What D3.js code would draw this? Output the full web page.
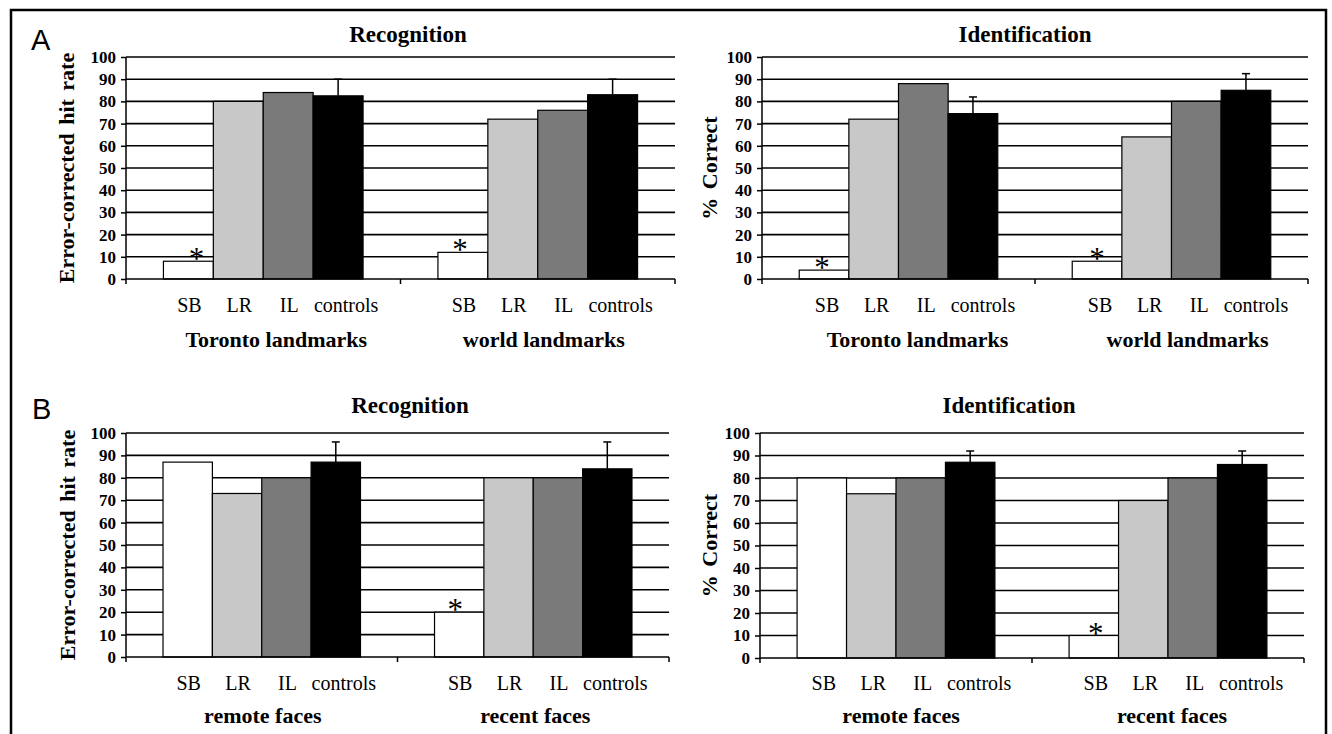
<!DOCTYPE html>
<html lang="en">
<head>
<meta charset="utf-8">
<title>Landmark and face recognition</title>
<script src="https://cdnjs.cloudflare.com/ajax/libs/d3/7.8.5/d3.min.js"></script>
<style>
  body { margin: 0; background: #fff; }
  text { font-family: "Liberation Serif", "Times New Roman", serif; fill: #000; }
</style>
</head>
<body>
<script>
// categories and groups
var categories = ["SB", "LR", "IL", "controls"];
var landmarkGroups = ["Toronto landmarks", "world landmarks"];
var faceGroups = ["remote faces", "recent faces"];
var yTicks = [0, 10, 20, 30, 40, 50, 60, 70, 80, 90, 100];

// values, one row per group, in category order
var recogLandmarks = [[8, 80, 84, 82.5], [12, 72, 76, 83]];
var identLandmarks = [[4, 72, 88, 74.5], [8, 64, 80, 85]];
var recogFaces = [[87, 73, 80, 87], [20, 80, 80, 84]];
var identFaces = [[80, 73, 80, 87], [10, 70, 80, 86]];

// top of the controls error bar, per group
var recogLandmarksErr = [90, 90];
var identLandmarksErr = [82, 92.5];
var recogFacesErr = [96, 96];
var identFacesErr = [92, 92];

// asterisk over SB, per group
var recogLandmarksStar = [true, true];
var identLandmarksStar = [true, true];
var recogFacesStar = [false, true];
var identFacesStar = [false, true];

var barColors = ["#ffffff", "#c8c8c8", "#7a7a7a", "#000000"];

var w = 1332, h = 734;

var svg = d3.select("body").append("svg")
    .attr("width", w)
    .attr("height", h);

// outer frame (bottom edge is cut off in the figure)
svg.append("path")
    .attr("d", "M11,736 L11,10 L1326,10 L1326,736")
    .attr("fill", "none")
    .attr("stroke", "#000")
    .attr("stroke-width", 2.5);

svg.append("text").attr("x", 31).attr("y", 50)
    .style("font-family", "'Liberation Sans', Arial, sans-serif")
    .style("font-size", "29px").text("A");
svg.append("text").attr("x", 32).attr("y", 419)
    .style("font-family", "'Liberation Sans', Arial, sans-serif")
    .style("font-size", "29px").text("B");

var panels = [
  { title: "Recognition", ylabel: "Error-corrected hit rate", groups: landmarkGroups,
    values: recogLandmarks, err: recogLandmarksErr, star: recogLandmarksStar,
    x0: 126, x1: 675, y0: 279, y1: 57, titleX: 408, titleY: 42, ylabX: 74,
    catY: 312, catDx: 1, groupY: 347, groupDx: [13, 6], starDx: [8, -3] },
  { title: "Identification", ylabel: "% Correct", groups: landmarkGroups,
    values: identLandmarks, err: identLandmarksErr, star: identLandmarksStar,
    x0: 762, x1: 1308, y0: 279, y1: 57, titleX: 1025, titleY: 42, ylabX: 717,
    catY: 312, catDx: 3, groupY: 347, groupDx: [19, 16], starDx: [-2, 0] },
  { title: "Recognition", ylabel: "Error-corrected hit rate", groups: faceGroups,
    values: recogFaces, err: recogFacesErr, star: recogFacesStar,
    x0: 126, x1: 669, y0: 657, y1: 433, titleX: 410, titleY: 413, ylabX: 75,
    catY: 690, catDx: 1, groupY: 723, groupDx: [1, 2], starDx: [0, -4] },
  { title: "Identification", ylabel: "% Correct", groups: faceGroups,
    values: identFaces, err: identFacesErr, star: identFacesStar,
    x0: 760, x1: 1304, y0: 658, y1: 433, titleX: 1009, titleY: 413, ylabX: 717,
    catY: 690, catDx: 2, groupY: 723, groupDx: [5, 4], starDx: [0, 2] }
];

panels.forEach(function(p) {
    var g = svg.append("g");

    var xGroup = d3.scaleBand()
        .domain(p.groups)
        .range([p.x0, p.x1]);

    // Excel-style 150% gap: 4 bars + 1.5 bar widths of gap per group
    var bw = xGroup.bandwidth() / 5.5;
    var xBar = d3.scaleBand()
        .domain(categories)
        .range([bw * 0.75, bw * 4.75]);

    var y = d3.scaleLinear()
        .domain([0, 100])
        .range([p.y0, p.y1]);

    // gridlines
    g.selectAll(".grid")
        .data(yTicks.filter(function(t) { return t > 0; }))
        .enter().append("line")
        .attr("x1", p.x0).attr("x2", p.x1)
        .attr("y1", function(d) { return y(d); })
        .attr("y2", function(d) { return y(d); })
        .attr("stroke", "#000")
        .attr("stroke-width", 1.6);

    p.groups.forEach(function(grp, gi) {
        var gx = xGroup(grp);

        // bars
        g.selectAll(".bar" + gi)
            .data(p.values[gi])
            .enter().append("rect")
            .attr("x", function(d, i) { return gx + xBar(categories[i]); })
            .attr("y", function(d) { return y(d); })
            .attr("width", xBar.bandwidth())
            .attr("height", function(d) { return y(0) - y(d); })
            .attr("fill", function(d, i) { return barColors[i]; })
            .attr("stroke", "#000")
            .attr("stroke-width", 1.2);

        // error bar on controls (upper half only)
        var cx = gx + xBar("controls") + xBar.bandwidth() / 2;
        var top = y(p.err[gi]);
        g.append("line")
            .attr("x1", cx).attr("x2", cx)
            .attr("y1", y(p.values[gi][3])).attr("y2", top)
            .attr("stroke", "#000").attr("stroke-width", 1.5);
        g.append("line")
            .attr("x1", cx - 4).attr("x2", cx + 4)
            .attr("y1", top).attr("y2", top)
            .attr("stroke", "#000").attr("stroke-width", 1.5);

        // asterisk
        if (p.star[gi]) {
            g.append("text")
                .attr("x", gx + xBar("SB") + xBar.bandwidth() / 2 + p.starDx[gi])
                .attr("y", y(p.values[gi][0]) + 8)
                .attr("text-anchor", "middle")
                .style("font-size", "31px")
                .text("*");
        }

        // category labels
        g.selectAll(".cat" + gi)
            .data(categories)
            .enter().append("text")
            .attr("x", function(d) {
                return gx + xBar(d) + xBar.bandwidth() / 2 + p.catDx + (d == "controls" ? 7 : 0);
            })
            .attr("y", p.catY)
            .attr("text-anchor", "middle")
            .style("font-size", "20px")
            .text(function(d) { return d; });

        // group label
        g.append("text")
            .attr("x", gx + xGroup.bandwidth() / 2 + p.groupDx[gi])
            .attr("y", p.groupY)
            .attr("text-anchor", "middle")
            .style("font-size", "22px")
            .style("font-weight", "bold")
            .text(grp);
    });

    // y axis
    var yAxis = d3.axisLeft(y)
        .tickValues(yTicks)
        .tickSize(5)
        .tickPadding(5);
    var ya = g.append("g")
        .attr("transform", "translate(" + p.x0 + ",0)")
        .call(yAxis);
    ya.select(".domain").remove();
    ya.selectAll("line").attr("stroke-width", 1.5);
    ya.selectAll("text")
        .style("font-family", "'Liberation Serif', 'Times New Roman', serif")
        .style("font-size", "17px")
        .style("font-weight", "bold");
    g.append("line")
        .attr("x1", p.x0).attr("x2", p.x0)
        .attr("y1", p.y1).attr("y2", p.y0 + 5)
        .attr("stroke", "#000").attr("stroke-width", 1.5);

    // x axis line with ticks at group boundaries
    g.append("line")
        .attr("x1", p.x0).attr("x2", p.x1)
        .attr("y1", p.y0).attr("y2", p.y0)
        .attr("stroke", "#000").attr("stroke-width", 1.6);
    g.selectAll(".xtick")
        .data([p.x0 + xGroup.bandwidth(), p.x1])
        .enter().append("line")
        .attr("x1", function(d) { return d; })
        .attr("x2", function(d) { return d; })
        .attr("y1", p.y0).attr("y2", p.y0 + 5)
        .attr("stroke", "#000").attr("stroke-width", 1.5);

    // title
    g.append("text")
        .attr("x", p.titleX).attr("y", p.titleY)
        .attr("text-anchor", "middle")
        .style("font-size", "23px")
        .style("font-weight", "bold")
        .text(p.title);

    // y axis title
    g.append("text")
        .attr("transform", "translate(" + p.ylabX + "," + ((p.y0 + p.y1) / 2) + ") rotate(-90)")
        .attr("text-anchor", "middle")
        .style("font-size", "22px")
        .style("font-weight", "bold")
        .style("word-spacing", "3px")
        .text(p.ylabel);
});
</script>
</body>
</html>
